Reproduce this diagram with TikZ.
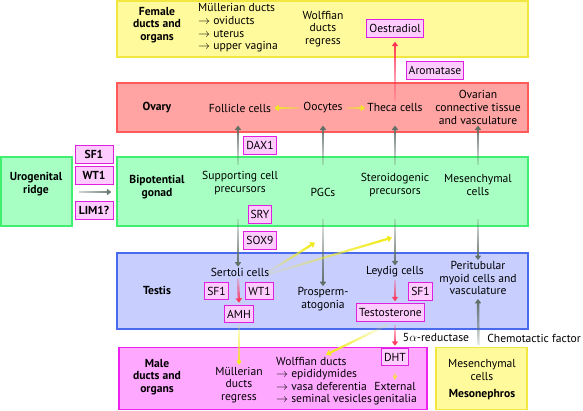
\documentclass[tikz,border=0pt]{standalone}
\usepackage{fontspec}
\setmainfont{PT Sans}
\usetikzlibrary{arrows.meta,calc,fadings}
\definecolor{yfill}{HTML}{FFFA9C}
\definecolor{ydraw}{HTML}{F2E640}
\definecolor{rfill}{HTML}{FFA3A3}
\definecolor{rdraw}{HTML}{FF5A5A}
\definecolor{gfill}{HTML}{A8FFC4}
\definecolor{gdraw}{HTML}{40EE70}
\definecolor{bfill}{HTML}{C8CFFF}
\definecolor{bdraw}{HTML}{4A6AEE}
\definecolor{mfill}{HTML}{FFA8FF}
\definecolor{mdraw}{HTML}{EE22EE}
\definecolor{tfill}{HTML}{FFCCFF}
\definecolor{tdraw}{HTML}{E020E0}
\definecolor{grayarrow}{HTML}{5E6E64}
\definecolor{redarrow}{HTML}{FF2F55}
\definecolor{yelarrow}{HTML}{F0EA20}
\tikzfading[name=fadeE, left color=transparent!85, right color=transparent!0]
\newcommand{\fsz}{\fontsize{11.6}{12.6}\selectfont}
\tikzset{
  bigbox/.style={draw, line width=1.2pt, inner sep=0pt},
  txt/.style={align=center, font=\fsz, inner sep=1pt},
  btxt/.style={txt, font=\fsz\bfseries},
  tag/.style={draw=tdraw, fill=tfill, line width=1pt, inner xsep=2.5pt, inner ysep=0pt,
    minimum height=17.5pt, font=\fsz},
  fd/.style={path fading=fadeE, fading angle=#1},
  grayarr/.style={draw=grayarrow, line width=2.4pt, -{Triangle[length=4.5pt,width=6.5pt]}},
  redarr/.style={draw=redarrow, line width=2.4pt, -{Triangle[length=4.5pt,width=6.5pt]}},
  yelarr/.style={draw=yelarrow, line width=2.2pt, -{Triangle[length=4.5pt,width=6.5pt]}},
}
\begin{document}
\begin{tikzpicture}[x=1pt,y=-1pt]
\useasboundingbox (0,0) rectangle (583,411);
% big boxes
\node[bigbox, fill=yfill, draw=ydraw, minimum width=411pt, minimum height=56pt] (fembox) at (322.5,29) {};
\node[bigbox, fill=rfill, draw=rdraw, minimum width=411pt, minimum height=49pt] (ovbox) at (322.5,107.5) {};
\node[bigbox, fill=gfill, draw=gdraw, minimum width=411pt, minimum height=69pt] (gonbox) at (322.5,191.5) {};
\node[bigbox, fill=gfill, draw=gdraw, minimum width=71pt, minimum height=69pt] (urobox) at (36.5,191.5) {};
\node[bigbox, fill=bfill, draw=bdraw, minimum width=411pt, minimum height=76pt] (tesbox) at (322.5,291) {};
\node[bigbox, fill=mfill, draw=mdraw, minimum width=308pt, minimum height=62pt] (malebox) at (273,378.5) {};
\node[bigbox, fill=yfill, draw=ydraw, minimum width=91pt, minimum height=62pt] (mesobox) at (481.5,378.5) {};

% female row
\node[btxt] (fem) at (157,25) {Female\\ducts and\\organs};
\node[txt, align=left, anchor=west] (mul) at (197,28) {Müllerian ducts\\$\rightarrow$ oviducts\\$\rightarrow$ uterus\\$\rightarrow$ upper vagina};
\node[txt] (wolf) at (323,29) {Wolffian\\ducts\\regress};
\node[tag] (oes) at (395,28.5) {Oestradiol};
\node[tag] (aro) at (435,70.5) {Aromatase};

% ovary row
\node[btxt] (ovary) at (157,108) {Ovary};
\node[txt] (fc) at (240,108) {Follicle cells};
\node[txt] (ooc) at (323,108) {Oocytes};
\node[txt] (thc) at (395,108) {Theca cells};
\node[txt] (ovc) at (478,107.5) {Ovarian\\connective tissue\\and vasculature};

% gonad row
\node[btxt] (uro) at (36,184) {Urogenital\\ridge};
\node[tag, font=\fsz\bfseries, minimum width=38pt] (sf1a) at (94,154.5) {SF1};
\node[tag, font=\fsz\bfseries, minimum width=38pt] (wt1a) at (94,175.5) {WT1};
\node[tag, font=\fsz\bfseries, minimum width=38pt] (lim1) at (94,210.5) {LIM1?};
\node[btxt] (gon) at (157,187) {Bipotential\\gonad};
\node[txt] (scp) at (240,183) {Supporting cell\\precursors};
\node[txt] (pgc) at (323,192) {PGCs};
\node[txt] (stp) at (395,185) {Steroidogenic\\precursors};
\node[txt] (mes) at (478,185) {Mesenchymal\\cells};
\node[tag] (dax1) at (260,145.5) {DAX1};
\node[tag] (sry) at (260,214.5) {SRY};
\node[tag] (sox9) at (260,240.5) {SOX9};

% testis row
\node[btxt] (testis) at (157,290) {Testis};
\node[txt] (ser) at (240,272) {Sertoli cells};
\node[tag] (sf1b) at (216.5,291) {SF1};
\node[tag] (wt1b) at (259.5,291) {WT1};
\node[tag] (amh) at (239,314) {AMH};
\node[txt] (pro) at (323,299) {Prosperm-\\atogonia};
\node[txt] (ley) at (395,272) {Leydig cells};
\node[tag] (sf1c) at (420.5,291.5) {SF1};
\node[tag] (tes) at (390.5,312.5) {Testosterone};
\node[txt] (per) at (478,278) {Peritubular\\myoid cells and\\vasculature};

% male row
\node[btxt] (male) at (157,377) {Male\\ducts and\\organs};
\node[txt] (mr) at (239,385) {Müllerian\\ducts\\regress};
\node[txt, align=left, anchor=west] (wd) at (275,380) {Wolffian ducts\\$\rightarrow$ epididymides\\$\rightarrow$ vasa deferentia\\$\rightarrow$ seminal vesicles};
\node[tag] (dht) at (395,357) {DHT};
\node[txt] (ext) at (395,393.5) {External\\genitalia};
\node[txt] (mesc) at (482,370) {Mesenchymal\\cells};
\node[btxt] (meso) at (482,395) {Mesonephros};
\node[txt] (red5) at (436,338) {5$\alpha$-reductase};
\node[txt] (chem) at (534,338) {Chemotactic factor};

% gray arrows up (gonad -> ovary)
\draw[grayarr, fd=90] ($(scp|-gonbox.north)+(-2,9)$) -- ($(fc|-ovbox.south)+(-2,-7)$);
\draw[grayarr, fd=90] ($(pgc|-gonbox.north)+(0,9)$) -- ($(ooc|-ovbox.south)+(0,-7)$);
\draw[grayarr, fd=90] ($(stp|-gonbox.north)+(0,9)$) -- ($(thc|-ovbox.south)+(0,-7)$);
\draw[grayarr, fd=90] ($(mes|-gonbox.north)+(0,9)$) -- ($(ovc|-ovbox.south)+(0,-7)$);
% gray arrows down (gonad -> testis)
\draw[grayarr, fd=-90] ($(scp|-gonbox.south)+(-2,-8)$) -- ($(ser.north)+(-2,0)$);
\draw[grayarr, fd=-90] ($(pgc|-gonbox.south)+(0,-8)$) -- (pro.north);
\draw[grayarr, fd=-90] ($(stp|-gonbox.south)+(0,-8)$) -- (ley.north);
\draw[grayarr, fd=-90] ($(mes|-gonbox.south)+(0,-8)$) -- (per.north);
% urogenital ridge -> gonad
\draw[grayarr, fd=0, shorten <=6pt, shorten >=5pt] (urobox.east|-0,192) -- (gonbox.west|-0,192);
% mesonephros -> testis
\draw[grayarr, fd=90] ($(mesobox.north)+(-3,-2)$) -- ($(per.south)+(0,3)$);

% red arrows
\draw[redarr, fd=90] ($(thc.north)+(0,-2)$) -- ($(oes.south)+(0,4)$);
\draw[redarr, fd=-90] ($(ser.south)+(-2,1)$) -- ($(amh.north)+(0,-2)$);
\draw[redarr, fd=-90] ($(ley.south)+(0,1)$) -- ($(tes.north)+(4.5,-2)$);
\draw[redarr, fd=-90] ($(tes.south)+(4.5,3)$) -- ($(dht.north)+(0,-2)$);

% yellow arrows
\draw[yelarr, fd=180] ($(ooc.west)+(-2,0)$) -- ($(fc.east)+(2,0)$);
\draw[yelarr, fd=0] ($(ooc.east)+(2,0)$) -- ($(thc.west)+(-1,0)$);
\draw[yelarr, fd=33] ($(ser.east)+(-2,0)$) -- ($(pgc|-gonbox.south)+(-8,16)$);
\draw[yelarr, fd=17] ($(ser.east)+(-2,2)$) -- ($(stp|-gonbox.south)+(-3,11)$);
\draw[yelarr, fd=-90] ($(amh.south)+(0,2)$) -- ($(mr.north)+(0,-1)$);
\draw[yelarr, fd=215] ($(tes.south)+(-3,3)$) -- ($(wd.north)+(2,-1)$);
\draw[yelarr, fd=-90, line width=1.6pt] ($(dht.south)+(0,6)$) -- ($(ext.north)+(0,-1)$);
\end{tikzpicture}
\end{document}
